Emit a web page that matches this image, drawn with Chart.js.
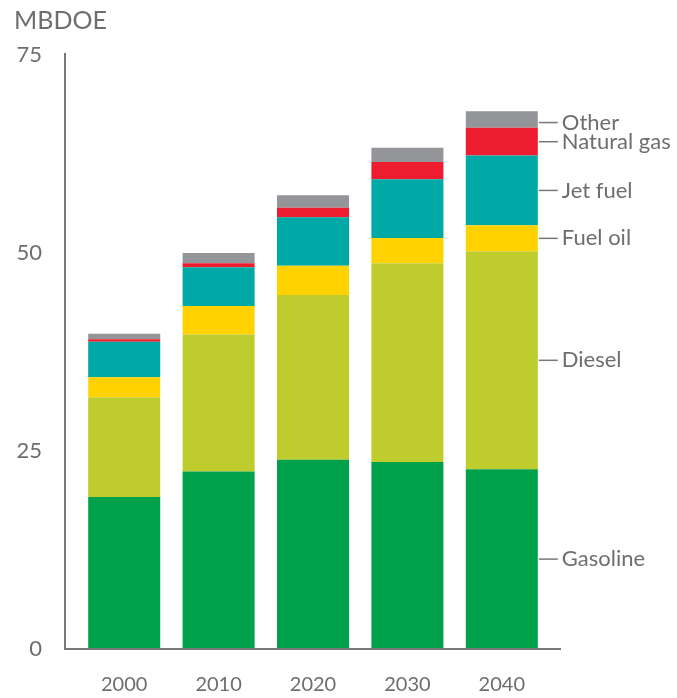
<!DOCTYPE html>
<html>
<head>
<meta charset="utf-8">
<script src="https://cdn.jsdelivr.net/npm/chart.js@4/dist/chart.umd.min.js"></script>
<style>
  body { margin: 0; background: #fff; }
  canvas { display: block; }
</style>
</head>
<body>
<canvas id="fuelChart" width="677" height="698"></canvas>
<script>
// Transport fuel demand by type, MBDOE
const years = ['2000', '2010', '2020', '2030', '2040'];
const gasoline = [19.2, 22.4, 23.9, 23.6, 22.7];
const diesel = [12.6, 17.3, 20.8, 25.1, 27.5];
const fuelOil = [2.5, 3.6, 3.7, 3.2, 3.3];
const jetFuel = [4.5, 4.9, 6.1, 7.4, 8.8];
const naturalGas = [0.3, 0.5, 1.2, 2.2, 3.5];
const other = [0.7, 1.3, 1.6, 1.8, 2.1];
const yTicks = [0, 25, 50, 75];

const textGray = '#6d6e71';
const fontFamily = 'Lato, "Open Sans", sans-serif';

const series = [
    { label: 'Gasoline', data: gasoline, color: '#00a14b' },
    { label: 'Diesel', data: diesel, color: '#bfcc2e' },
    { label: 'Fuel oil', data: fuelOil, color: '#ffd200' },
    { label: 'Jet fuel', data: jetFuel, color: '#00a9a5' },
    { label: 'Natural gas', data: naturalGas, color: '#ed1c2e' },
    { label: 'Other', data: other, color: '#939598' }
];

// axis lines, unit title and the labels to the right of the last bar
const decorations = {
    id: 'decorations',
    afterDatasetsDraw(chart) {
        const ctx = chart.ctx;
        const yScale = chart.scales.y;
        const top = yScale.getPixelForValue(yTicks[yTicks.length - 1]);
        const base = yScale.getPixelForValue(0);

        ctx.save();
        ctx.strokeStyle = '#77787b';
        ctx.lineWidth = 2;
        ctx.beginPath();
        ctx.moveTo(65, top - 2);
        ctx.lineTo(65, base);
        ctx.lineTo(561, base);
        ctx.stroke();

        ctx.fillStyle = textGray;
        ctx.font = '25px ' + fontFamily;
        ctx.textBaseline = 'middle';
        ctx.textAlign = 'left';
        ctx.fillText('MBDOE', 14, 21);

        ctx.font = '22px ' + fontFamily;
        ctx.lineWidth = 1.5;
        const last = years.length - 1;
        series.forEach((s, i) => {
            const bar = chart.getDatasetMeta(i).data[last];
            let y = (bar.y + bar.base) / 2;
            if (s.label === 'Other') y += 3;
            const x = bar.x + bar.width / 2;
            ctx.beginPath();
            ctx.moveTo(x + 1, y);
            ctx.lineTo(x + 20, y);
            ctx.stroke();
            ctx.fillText(s.label, x + 24, y);
        });
        ctx.restore();
    }
};

const fuelCtx = document.getElementById('fuelChart').getContext('2d');
const fuelChart = new Chart(fuelCtx, {
    type: 'bar',
    data: {
        labels: years,
        datasets: series.map(s => ({
            label: s.label,
            data: s.data,
            backgroundColor: s.color,
            borderWidth: 0,
            barPercentage: 0.763,
            categoryPercentage: 1
        }))
    },
    options: {
        responsive: false,
        animation: false,
        layout: {
            padding: { top: 55, right: 128, bottom: 0, left: 0 }
        },
        plugins: {
            legend: { display: false },
            tooltip: { enabled: false }
        },
        scales: {
            x: {
                stacked: true,
                grid: { display: false, drawTicks: false },
                border: { display: false },
                ticks: {
                    color: textGray,
                    font: { family: fontFamily, size: 20 },
                    padding: 24
                },
                afterFit(scale) { scale.height = 49; }
            },
            y: {
                stacked: true,
                min: 0,
                max: 75,
                grid: { display: false, drawTicks: false },
                border: { display: false },
                afterBuildTicks(scale) {
                    scale.ticks = yTicks.map(v => ({ value: v }));
                },
                ticks: {
                    color: textGray,
                    font: { family: fontFamily, size: 22 },
                    padding: 35
                },
                afterFit(scale) { scale.width = 77; }
            }
        }
    },
    plugins: [decorations]
});
</script>
</body>
</html>
